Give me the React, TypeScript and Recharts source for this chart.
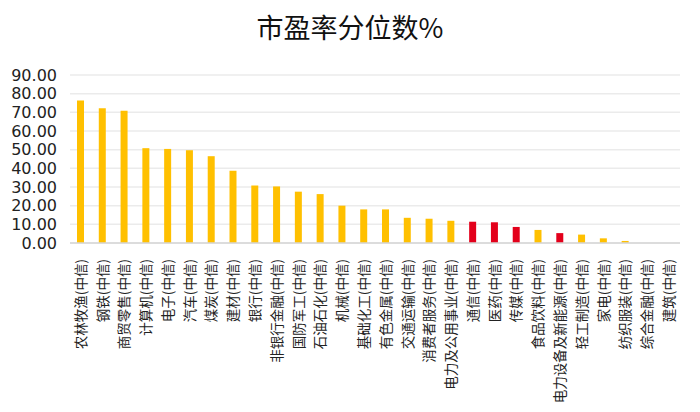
import React from "react";
import { BarChart, Bar, XAxis, YAxis, CartesianGrid, Cell } from "recharts";

const industries = [
  "农林牧渔(中信)", "钢铁(中信)", "商贸零售(中信)", "计算机(中信)", "电子(中信)",
  "汽车(中信)", "煤炭(中信)", "建材(中信)", "银行(中信)", "非银行金融(中信)",
  "国防军工(中信)", "石油石化(中信)", "机械(中信)", "基础化工(中信)", "有色金属(中信)",
  "交通运输(中信)", "消费者服务(中信)", "电力及公用事业(中信)", "通信(中信)", "医药(中信)",
  "传媒(中信)", "食品饮料(中信)", "电力设备及新能源(中信)", "轻工制造(中信)", "家电(中信)",
  "纺织服装(中信)", "综合金融(中信)", "建筑(中信)",
];

const peQuantile = [
  76.3, 72.2, 70.8, 50.8, 50.4, 49.7, 46.5, 38.7, 30.8, 30.3,
  27.5, 26.2, 20.0, 18.0, 18.0, 13.5, 13.0, 11.9, 11.4, 11.1,
  8.6, 7.0, 5.3, 4.5, 2.5, 1.1, 0, 0,
];

// industries drawn in red in the original
const highlighted = ["通信(中信)", "医药(中信)", "传媒(中信)", "电力设备及新能源(中信)"];

const yTicks = [0, 10, 20, 30, 40, 50, 60, 70, 80, 90];

const data = industries.map((name, i) => ({ name, value: peQuantile[i] }));

const XTick = (props: any) => {
  const { x, y, payload } = props;
  return (
    <g transform={`translate(${x},${y})`}>
      <text
        transform="rotate(-90)"
        x={-8}
        y={0}
        dy="0.36em"
        textAnchor="end"
        fontSize={13.5}
        fill="#222"
        fontFamily="'Noto Sans CJK SC', sans-serif"
      >
        {payload.value}
      </text>
    </g>
  );
};

export default function App() {
  return (
    <div style={{ width: 700, height: 412, position: "relative", background: "#fff" }}>
      <style>{"body{margin:0}"}</style>
      <div
        style={{
          position: "absolute",
          top: 10,
          left: 0,
          width: 700,
          textAlign: "center",
          fontSize: 27,
          fontFamily: "'Noto Sans CJK SC', sans-serif",
          color: "#111",
          lineHeight: "34px",
        }}
      >
        市盈率分位数%
      </div>
      <BarChart
        width={700}
        height={412}
        data={data}
        margin={{ top: 75, right: 20, left: 8, bottom: 0 }}
        barSize={7}
      >
        <CartesianGrid vertical={false} stroke="#ebebeb" strokeWidth={1.5} />
        <XAxis
          dataKey="name"
          interval={0}
          height={169}
          tickLine={false}
          axisLine={{ stroke: "#d6d6d6", strokeWidth: 1.5 }}
          tick={<XTick />}
        />
        <YAxis
          domain={[0, 90]}
          ticks={yTicks}
          interval={0}
          width={62}
          axisLine={false}
          tickLine={false}
          tickSize={6}
          tickMargin={7}
          tickFormatter={(v: number) => v.toFixed(2)}
          tick={{ fontSize: 16, fill: "#222", fontFamily: "'DejaVu Sans', sans-serif" }}
        />
        <Bar dataKey="value" isAnimationActive={false}>
          {data.map((d) => (
            <Cell key={d.name} fill={highlighted.includes(d.name) ? "#E3001B" : "#FFC000"} />
          ))}
        </Bar>
      </BarChart>
    </div>
  );
}
